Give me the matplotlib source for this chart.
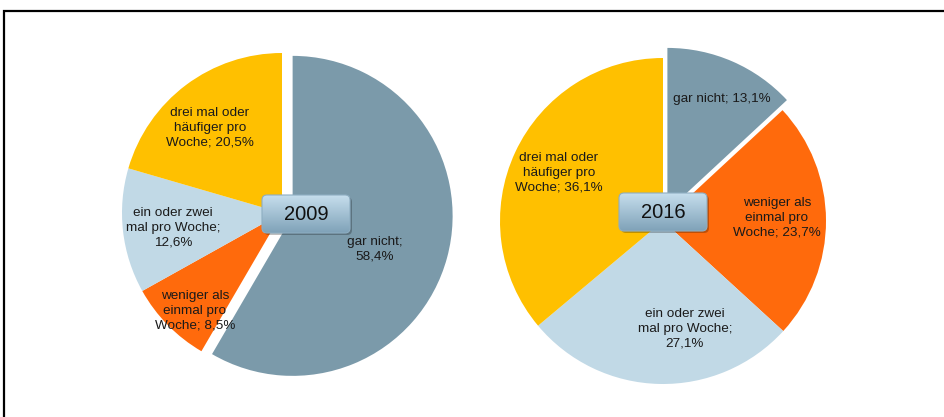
import matplotlib.pyplot as plt
from matplotlib.patches import FancyBboxPatch, Rectangle
from matplotlib.colors import LinearSegmentedColormap
import numpy as np

plt.rcParams['font.family'] = ['Liberation Sans', 'DejaVu Sans']

# Daten
jahre = ["2009", "2016"]
kategorien = ["gar nicht", "weniger als einmal pro Woche",
              "ein oder zwei mal pro Woche", "drei mal oder häufiger pro Woche"]
werte_2009 = [58.4, 8.5, 12.6, 20.5]
werte_2016 = [13.1, 23.7, 27.1, 36.1]
farben = ['#7b9aaa', '#ff6a0c', '#c1d9e6', '#ffc000']

# Beschriftungen mit Zeilenumbruch, {} = Prozentwert
texte_2009 = ["gar nicht;\n{}", "weniger als\neinmal pro\nWoche; {}",
              "ein oder zwei\nmal pro Woche;\n{}", "drei mal oder\nhäufiger pro\nWoche; {}"]
texte_2016 = ["gar nicht; {}", "weniger als\neinmal pro\nWoche; {}",
              "ein oder zwei\nmal pro Woche;\n{}", "drei mal oder\nhäufiger pro\nWoche; {}"]

W, H = 944, 417
fig = plt.figure(figsize=(W / 100, H / 100), dpi=100)
ax = fig.add_axes([0, 0, 1, 1])

# Layout in Pixeln (x nach rechts, y nach unten)
kreise = [
    dict(werte=werte_2009, texte=texte_2009, mitte=(282, 213), r=160,
         pos=[(93, 36), (-87, 98), (-109, 15), (-72, -85)], box=(306, 214)),
    dict(werte=werte_2016, texte=texte_2016, mitte=(663, 221), r=163,
         pos=[(59, -122), (114, -3), (22, 108), (-104, -48)], box=(663, 212)),
]

cmap = LinearSegmentedColormap.from_list('box', ['#7fa2b8', '#c6deed'])

for jahr, k in zip(jahre, kreise):
    cx, cy = k['mitte']
    ax.pie(k['werte'], colors=farben, startangle=90, counterclock=False,
           center=(cx, H - cy), radius=k['r'], explode=[11, 0, 0, 0],
           wedgeprops=dict(linewidth=0))
    for t, w, (dx, dy) in zip(k['texte'], k['werte'], k['pos']):
        s = t.format(f"{w:.1f}%".replace('.', ','))
        ax.text(cx + dx, H - (cy + dy), s, ha='center', va='center',
                fontsize=9.7, color='#1a1a1a', linespacing=1.3)

    # Jahres-Kasten mit Farbverlauf
    bx, by = k['box']
    bw, bh = 88, 38
    x0, y0 = bx - bw / 2, H - by - bh / 2
    schatten = FancyBboxPatch((x0 + 2, y0 - 2), bw, bh,
                              boxstyle="round,pad=0,rounding_size=5",
                              fc='#000000', ec='none', alpha=0.25, zorder=5)
    ax.add_patch(schatten)
    box = FancyBboxPatch((x0, y0), bw, bh, boxstyle="round,pad=0,rounding_size=5",
                         fc='none', ec='#8eaec2', lw=0.8, zorder=7)
    ax.add_patch(box)
    grad = np.linspace(0, 1, 100).reshape(-1, 1)
    im = ax.imshow(grad, extent=[x0, x0 + bw, y0, y0 + bh], origin='lower',
                   cmap=cmap, aspect='auto', zorder=6)
    im.set_clip_path(box)
    ax.text(bx, H - by, jahr, ha='center', va='center', fontsize=14.5,
            color='#111111', zorder=8)

# Rahmen
ax.add_patch(Rectangle((4, -50), 1200, H - 11 + 50, fill=False,
                       ec='black', lw=1.6, zorder=10))

ax.set_xlim(0, W)
ax.set_ylim(0, H)
ax.set_aspect('auto')
ax.axis('off')

fig.savefig('out.png', dpi=100)
